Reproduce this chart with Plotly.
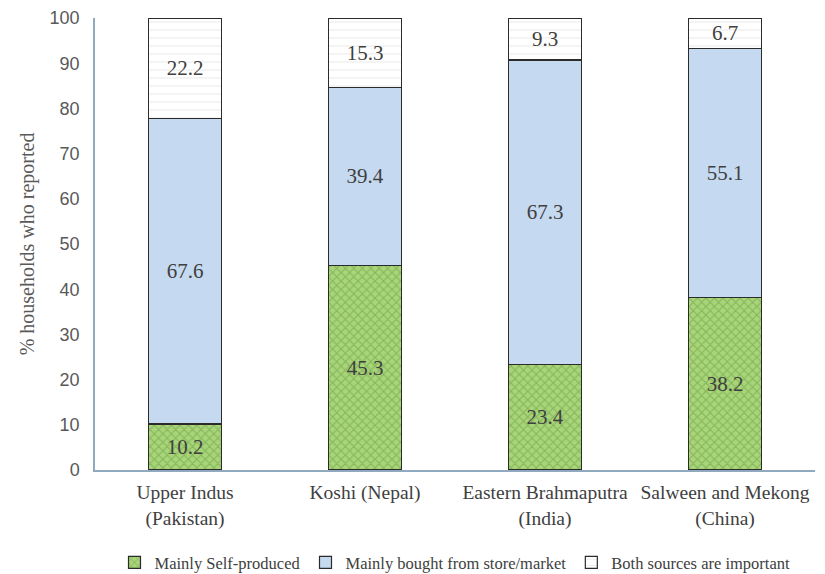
import plotly.graph_objects as go

# Household food sources by river basin (% of households)
basins = ["Upper Indus<br>(Pakistan)", "Koshi (Nepal)", "Eastern Brahmaputra<br>(India)", "Salween and Mekong<br>(China)"]
self_produced = [10.2, 45.3, 23.4, 38.2]
bought = [67.6, 39.4, 67.3, 55.1]
both_sources = [22.2, 15.3, 9.3, 6.7]

serif = "Times New Roman, Liberation Serif, serif"
text_col = "#404040"

fig = go.Figure()

fig.add_trace(go.Bar(
    x=basins, y=self_produced, name="Mainly Self-produced",
    text=[f"{v:.1f}" for v in self_produced],
    marker=dict(color="#9ccc6a", line=dict(color="#2b2b2b", width=1.2),
                pattern=dict(shape="x", fgcolor="#5f9a3a", bgcolor="#a9d47a", size=6, solidity=0.35)),
))
fig.add_trace(go.Bar(
    x=basins, y=bought, name="Mainly bought from store/market",
    text=[f"{v:.1f}" for v in bought],
    marker=dict(color="#c5d9f0", line=dict(color="#2b2b2b", width=1.2)),
))
fig.add_trace(go.Bar(
    x=basins, y=both_sources, name="Both sources are important",
    text=[f"{v:.1f}" for v in both_sources],
    marker=dict(color="#ffffff", line=dict(color="#2b2b2b", width=1.2),
                pattern=dict(shape="-", fgcolor="#d9d9d9", bgcolor="#ffffff", size=8, solidity=0.15)),
))

fig.update_traces(
    textposition="inside", insidetextanchor="middle", textangle=0,
    constraintext="none",
    textfont=dict(family=serif, size=21, color=text_col),
)

fig.update_layout(
    barmode="stack", bargap=0.595,
    width=825, height=574,
    margin=dict(l=95, r=10, t=18, b=104, autoexpand=False),
    paper_bgcolor="white", plot_bgcolor="white",
    showlegend=True,
    legend=dict(orientation="h", x=0.5, xanchor="center", y=-0.205, yanchor="middle",
                font=dict(family=serif, size=16.5, color=text_col),
                traceorder="normal", itemwidth=30, tracegroupgap=0),
    xaxis=dict(showline=True, linecolor="#8faabf", linewidth=1.5, ticks="",
               ticklabelstandoff=4,
               tickfont=dict(family=serif, size=19.5, color=text_col)),
    yaxis=dict(range=[0, 100], dtick=10, showline=True, linecolor="#8faabf", linewidth=1.5,
               showgrid=False, zeroline=False, ticks="", ticklabelstandoff=10,
               tickfont=dict(family="Liberation Sans, Arial, sans-serif", size=18, color="#595959"),
               title=dict(text="% households who reported", standoff=10,
                          font=dict(family=serif, size=20, color="#595959"))),
)

fig.write_html("out.html")
